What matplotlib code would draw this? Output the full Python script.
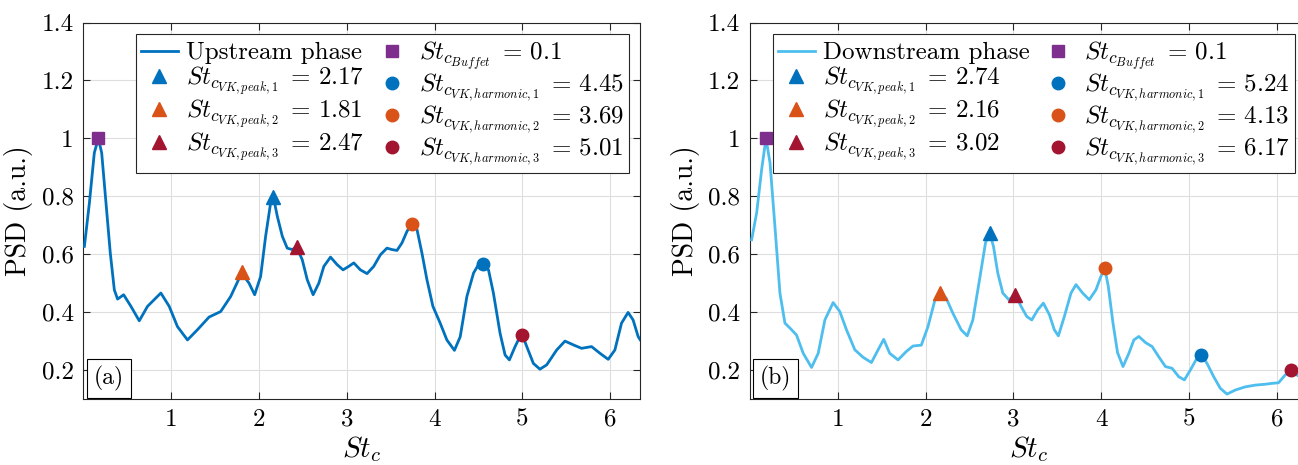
""" PSD of the upstream and downstream phases. """

import matplotlib
matplotlib.use("Agg")
import matplotlib.pyplot as plt

plt.rcParams["font.family"] = "serif"
plt.rcParams["font.serif"] = ["cmr10", "DejaVu Serif"]
plt.rcParams["mathtext.fontset"] = "cm"
plt.rcParams["axes.unicode_minus"] = False

# upstream phase spectrum
up_st = [0.012, 0.069, 0.125, 0.171, 0.209, 0.258, 0.307, 0.353, 0.390, 0.459,
         0.542, 0.637, 0.731, 0.883, 0.978, 1.072, 1.186, 1.299, 1.432, 1.564,
         1.678, 1.803, 1.887, 1.951, 2.019, 2.076, 2.133, 2.165, 2.209, 2.266,
         2.322, 2.379, 2.428, 2.493, 2.550, 2.617, 2.682, 2.739, 2.815, 2.890,
         2.958, 3.023, 3.080, 3.155, 3.231, 3.307, 3.383, 3.458, 3.515, 3.572,
         3.629, 3.686, 3.743, 3.800, 3.856, 3.913, 3.981, 4.064, 4.140, 4.226,
         4.292, 4.368, 4.444, 4.500, 4.550, 4.614, 4.670, 4.746, 4.803, 4.852,
         4.917, 4.973, 5.000, 5.050, 5.125, 5.200, 5.277, 5.390, 5.485, 5.580,
         5.674, 5.788, 5.883, 5.977, 6.053, 6.129, 6.204, 6.261, 6.318, 6.340]
up_psd = [0.627, 0.777, 0.950, 1.000, 0.950, 0.777, 0.604, 0.477, 0.445, 0.460,
          0.420, 0.370, 0.420, 0.466, 0.420, 0.350, 0.304, 0.339, 0.383, 0.402,
          0.454, 0.535, 0.500, 0.460, 0.523, 0.662, 0.777, 0.797, 0.731, 0.662,
          0.621, 0.616, 0.625, 0.581, 0.512, 0.460, 0.500, 0.558, 0.590, 0.564,
          0.546, 0.558, 0.570, 0.546, 0.533, 0.558, 0.598, 0.621, 0.616, 0.613,
          0.639, 0.679, 0.706, 0.685, 0.604, 0.512, 0.420, 0.362, 0.304, 0.268,
          0.315, 0.454, 0.535, 0.564, 0.567, 0.546, 0.466, 0.327, 0.252, 0.235,
          0.281, 0.316, 0.321, 0.281, 0.223, 0.203, 0.218, 0.269, 0.300, 0.287,
          0.275, 0.281, 0.258, 0.237, 0.269, 0.362, 0.399, 0.373, 0.316, 0.305]

# downstream phase spectrum
down_st = [0.019, 0.076, 0.133, 0.182, 0.228, 0.284, 0.341, 0.398, 0.455, 0.530,
           0.606, 0.701, 0.777, 0.853, 0.947, 1.023, 1.099, 1.194, 1.288, 1.383,
           1.459, 1.523, 1.591, 1.686, 1.780, 1.856, 1.951, 2.027, 2.102, 2.159,
           2.235, 2.311, 2.405, 2.474, 2.538, 2.614, 2.682, 2.730, 2.773, 2.822,
           2.879, 2.947, 3.023, 3.087, 3.152, 3.209, 3.277, 3.341, 3.410, 3.466,
           3.512, 3.580, 3.656, 3.713, 3.788, 3.864, 3.940, 3.996, 4.040, 4.080,
           4.135, 4.186, 4.248, 4.315, 4.372, 4.428, 4.504, 4.580, 4.655, 4.731,
           4.807, 4.883, 4.947, 5.015, 5.090, 5.140, 5.205, 5.281, 5.356, 5.432,
           5.527, 5.640, 5.754, 5.867, 5.943, 6.019, 6.095, 6.163, 6.228, 6.300,
           6.340]
down_psd = [0.650, 0.743, 0.893, 1.000, 0.916, 0.696, 0.466, 0.362, 0.345, 0.321,
            0.258, 0.209, 0.258, 0.373, 0.433, 0.402, 0.339, 0.270, 0.244, 0.226,
            0.270, 0.306, 0.258, 0.235, 0.264, 0.283, 0.286, 0.350, 0.437, 0.466,
            0.448, 0.396, 0.339, 0.318, 0.373, 0.512, 0.639, 0.673, 0.627, 0.535,
            0.466, 0.443, 0.460, 0.420, 0.385, 0.373, 0.408, 0.431, 0.391, 0.339,
            0.318, 0.385, 0.466, 0.495, 0.466, 0.443, 0.477, 0.523, 0.552, 0.490,
            0.360, 0.260, 0.212, 0.258, 0.304, 0.316, 0.295, 0.281, 0.246, 0.212,
            0.206, 0.177, 0.166, 0.200, 0.241, 0.252, 0.223, 0.177, 0.137, 0.117,
            0.131, 0.142, 0.148, 0.151, 0.154, 0.156, 0.183, 0.200, 0.183, 0.170,
            0.165]

# marked frequencies: where they sit on the curve, and the value in the legend
up_buffet = (0.171, 1.0)
up_peak_st = [2.165, 1.803, 2.428]
up_peak_psd = [0.797, 0.540, 0.625]
up_harm_st = [4.550, 3.743, 5.000]
up_harm_psd = [0.567, 0.706, 0.321]
up_peak_lbl = ["2.17", "1.81", "2.47"]
up_harm_lbl = ["4.45", "3.69", "5.01"]

down_buffet = (0.182, 1.0)
down_peak_st = [2.730, 2.159, 3.023]
down_peak_psd = [0.673, 0.466, 0.460]
down_harm_st = [5.140, 4.040, 6.163]
down_harm_psd = [0.252, 0.552, 0.200]
down_peak_lbl = ["2.74", "2.16", "3.02"]
down_harm_lbl = ["5.24", "4.13", "6.17"]

buffet_lbl = "0.1"

x_ticks = [1, 2, 3, 4, 5, 6]
y_ticks = [0.2, 0.4, 0.6, 0.8, 1.0, 1.2, 1.4]
y_tick_labels = ["0.2", "0.4", "0.6", "0.8", "1", "1.2", "1.4"]

mark_colors = ["#0072BD", "#D95319", "#A2142F"]
buffet_color = "#7E2F8E"
axis_color = "#262626"


def draw_panel(ax, st, psd, line_color, name, buffet, peak_st, peak_psd,
               harm_st, harm_psd, peak_lbl, harm_lbl, tag):
    """ Plot one PSD panel with its marked peaks. """

    handles = []
    line, = ax.plot(st, psd, color=line_color, lw=2, label=name, zorder=3)
    handles.append(line)
    for i in range(3):
        h, = ax.plot(peak_st[i], peak_psd[i], "^", color=mark_colors[i], ms=10,
                     mec=mark_colors[i], zorder=4,
                     label=r"$St_{c_{VK,peak,%d}}\;=\,%s$" % (i + 1, peak_lbl[i]))
        handles.append(h)
    h, = ax.plot(buffet[0], buffet[1], "s", color=buffet_color, ms=8,
                 mec=buffet_color, zorder=4,
                 label=r"$St_{c_{Buffet}}\;=\,%s$" % buffet_lbl)
    handles.append(h)
    for i in range(3):
        h, = ax.plot(harm_st[i], harm_psd[i], "o", color=mark_colors[i], ms=9,
                     mec=mark_colors[i], zorder=4,
                     label=r"$St_{c_{VK,harmonic,%d}}\;=\,%s$" % (i + 1, harm_lbl[i]))
        handles.append(h)

    ax.set_xlim(0, 6.34)
    ax.set_ylim(0.1, 1.4)
    ax.set_xticks(x_ticks)
    ax.set_xticklabels([str(t) for t in x_ticks])
    ax.set_yticks(y_ticks)
    ax.set_yticklabels(y_tick_labels)
    ax.tick_params(direction="in", length=5, width=0.8, top=True, right=True,
                   labelsize=18, pad=7, color=axis_color)
    ax.grid(True, color="#dedede", lw=0.8)
    ax.set_axisbelow(True)
    for s in ax.spines.values():
        s.set_color(axis_color)
        s.set_linewidth(0.8)

    ax.set_xlabel(r"$St_c$", fontsize=21, labelpad=2)
    ax.set_ylabel("PSD (a.u.)", fontsize=20, labelpad=6)

    leg = ax.legend(handles=handles, ncol=2, loc="upper right", fontsize=18,
                    handlelength=1.5, handletextpad=0.3, columnspacing=0.4,
                    borderpad=0.2, labelspacing=0.0, borderaxespad=0.45,
                    numpoints=1, fancybox=False, framealpha=1)
    leg.get_frame().set_edgecolor(axis_color)
    leg.get_frame().set_linewidth(0.8)
    leg.set_zorder(5)

    ax.text(0.046, 0.054, tag, transform=ax.transAxes, ha="center", va="center",
            fontsize=17, zorder=6,
            bbox=dict(boxstyle="square,pad=0.3", fc="white", ec="black", lw=0.8))


fig = plt.figure(figsize=(12.98, 4.65), dpi=100)
ax_a = fig.add_axes([0.0642, 0.1419, 0.4289, 0.8097])
ax_b = fig.add_axes([0.5778, 0.1419, 0.4289, 0.8097])

draw_panel(ax_a, up_st, up_psd, "#0072BD", "Upstream phase", up_buffet,
           up_peak_st, up_peak_psd, up_harm_st, up_harm_psd,
           up_peak_lbl, up_harm_lbl, "(a)")
draw_panel(ax_b, down_st, down_psd, "#4DBEEE", "Downstream phase", down_buffet,
           down_peak_st, down_peak_psd, down_harm_st, down_harm_psd,
           down_peak_lbl, down_harm_lbl, "(b)")

fig.savefig("out.png", dpi=100)
plt.close(fig)
